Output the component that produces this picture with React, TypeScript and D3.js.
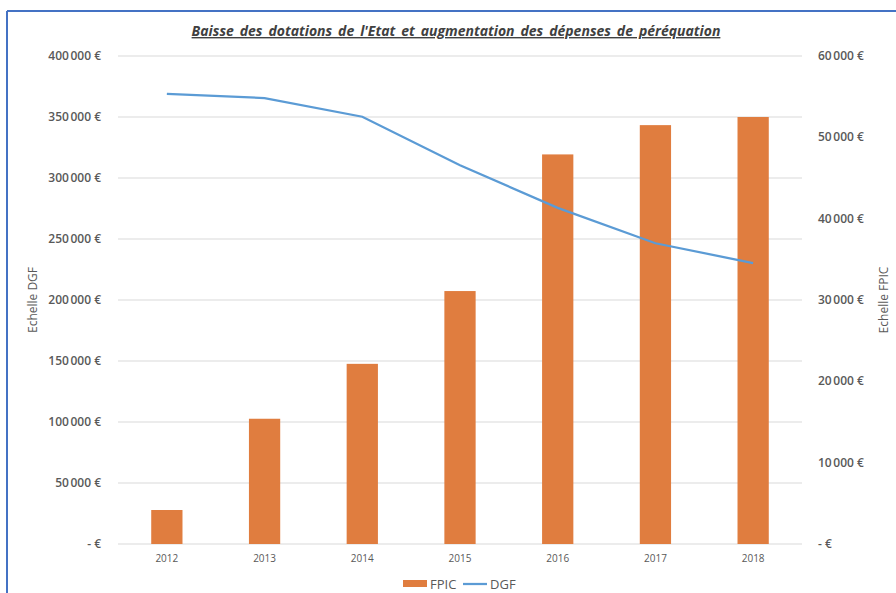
import React from "react";
import * as d3 from "d3";

const years = ["2012", "2013", "2014", "2015", "2016", "2017", "2018"];
const fpic = [4180, 15400, 22150, 31100, 47900, 51500, 52500];
const dgf = [369000, 365500, 350200, 310500, 275500, 246500, 230300];
const leftTicks = [0, 50000, 100000, 150000, 200000, 250000, 300000, 350000, 400000];
const rightTicks = [0, 10000, 20000, 30000, 40000, 50000, 60000];

const W = 896, H = 593;
const left = 118, right = 802, top = 56, bottom = 544;
const font = "'Open Sans', 'Liberation Sans', sans-serif";

const fmt = (v: number) =>
  v === 0 ? "- €" : d3.format(",")(v).replace(/,/g, "\u202f") + " €";

export default function App() {
  const x = d3.scaleBand().domain(years).range([left, right]).paddingInner(0.68).paddingOuter(0.34);
  const xc = (d: string) => (x(d) as number) + x.bandwidth() / 2;
  const yL = d3.scaleLinear().domain([0, 400000]).range([bottom, top]);
  const yR = d3.scaleLinear().domain([0, 60000]).range([bottom, top]);
  const line = d3.line<number>().x((_, i) => xc(years[i])).y((d) => yL(d));

  return (
    <svg width={W} height={H} style={{ position: "absolute", left: 0, top: 0 }}>
      <rect x={0} y={0} width={W} height={H} fill="#fff" />
      <line x1={7} x2={W} y1={11} y2={11} stroke="#4472C4" strokeWidth={2} />
      <line x1={7} x2={7} y1={11} y2={H} stroke="#4472C4" strokeWidth={2} />
      <text x={456} y={36} textAnchor="middle" fontFamily={font} fontSize={14} fontWeight="bold"
        fontStyle="italic" textDecoration="underline" fill="#404040" wordSpacing={2.3}>
        Baisse des dotations de l'Etat et augmentation des dépenses de péréquation
      </text>
      {leftTicks.map((t) => (
        <g key={t}>
          <line x1={left} x2={right} y1={yL(t)} y2={yL(t)} stroke="#d9d9d9" strokeWidth={1} />
          <text x={101} y={yL(t) + 4} textAnchor="end" fontFamily={font} fontSize={12} fontWeight="600" fill="#595959">
            {fmt(t)}
          </text>
        </g>
      ))}
      {rightTicks.map((t) => (
        <text key={t} x={818} y={yR(t) + 4} textAnchor="start" fontFamily={font} fontSize={12} fontWeight="600" fill="#595959">
          {fmt(t)}
        </text>
      ))}
      {years.map((yr, i) => (
        <g key={yr}>
          <rect x={x(yr)} y={yR(fpic[i])} width={x.bandwidth()} height={bottom - yR(fpic[i])} fill="#E07D3F" />
          <text x={xc(yr)} y={562} textAnchor="middle" fontFamily={font} fontSize={10} fill="#595959">{yr}</text>
        </g>
      ))}
      <path d={line(dgf) as string} fill="none" stroke="#5B9BD5" strokeWidth={2.25} />
      <text transform={`translate(37,300) rotate(-90)`} textAnchor="middle" fontFamily={font} fontSize={12} fill="#595959">
        Echelle DGF
      </text>
      <text transform={`translate(888,300) rotate(-90)`} textAnchor="middle" fontFamily={font} fontSize={12} fill="#595959">
        Echelle FPIC
      </text>
      <rect x={403} y={580} width={24} height={7} fill="#E07D3F" />
      <text x={430} y={589} fontFamily={font} fontSize={13} fill="#595959">FPIC</text>
      <line x1={463} x2={487} y1={584} y2={584} stroke="#5B9BD5" strokeWidth={2.25} />
      <text x={490} y={589} fontFamily={font} fontSize={13} fill="#595959">DGF</text>
    </svg>
  );
}
